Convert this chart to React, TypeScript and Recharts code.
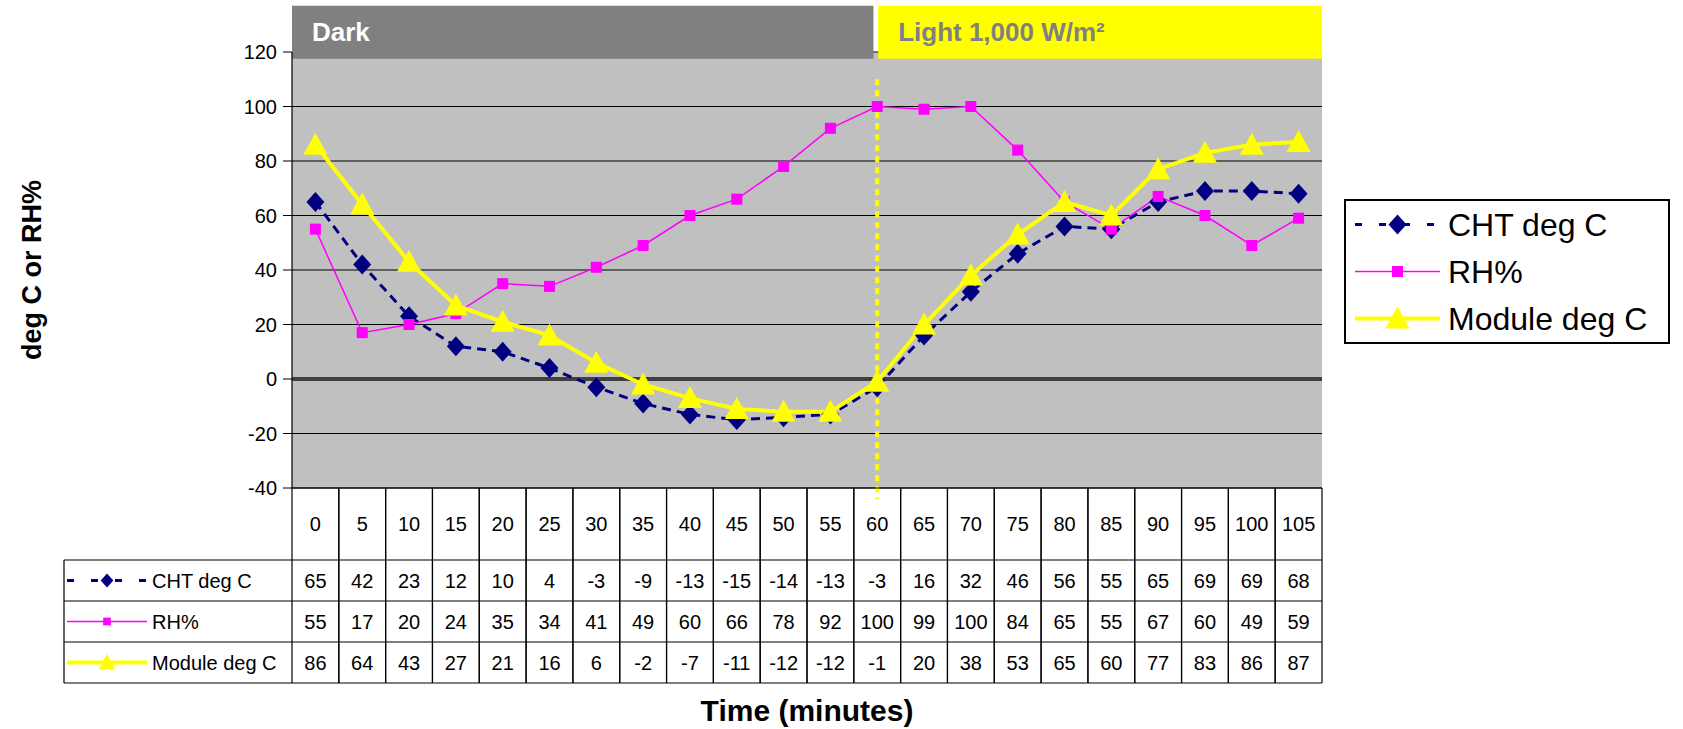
import {
  LineChart,
  Line,
  XAxis,
  YAxis,
  CartesianGrid,
  Legend,
  ReferenceArea,
  ReferenceLine,
  Label,
} from "recharts";

const times = [0, 5, 10, 15, 20, 25, 30, 35, 40, 45, 50, 55, 60, 65, 70, 75, 80, 85, 90, 95, 100, 105];
const chtDegC = [65, 42, 23, 12, 10, 4, -3, -9, -13, -15, -14, -13, -3, 16, 32, 46, 56, 55, 65, 69, 69, 68];
const rhPct = [55, 17, 20, 24, 35, 34, 41, 49, 60, 66, 78, 92, 100, 99, 100, 84, 65, 55, 67, 60, 49, 59];
const moduleDegC = [86, 64, 43, 27, 21, 16, 6, -2, -7, -11, -12, -12, -1, 20, 38, 53, 65, 60, 77, 83, 86, 87];
const yTicks = [-40, -20, 0, 20, 40, 60, 80, 100, 120];
const lightOnAt = 60;

const data = times.map((t, i) => ({
  t,
  cht: chtDegC[i],
  rh: rhPct[i],
  module: moduleDegC[i],
}));

const series = [
  { key: "cht", name: "CHT deg C", values: chtDegC, color: "#000080", width: 3, dash: "9 6", marker: "diamond" },
  { key: "rh", name: "RH%", values: rhPct, color: "#FF00FF", width: 1.5, dash: undefined, marker: "square" },
  { key: "module", name: "Module deg C", values: moduleDegC, color: "#FFFF00", width: 4, dash: undefined, marker: "triangle" },
];

const phases = [
  { label: "Dark", from: -2.5, to: 59.6, fill: "#808080", text: "#FFFFFF" },
  { label: "Light 1,000 W/m\u00B2", from: 60.1, to: 107.5, fill: "#FFFF00", text: "#808080" },
];

// layout
const W = 1683;
const H = 729;
const PLOT_LEFT = 292;
const PLOT_RIGHT = 1322;
const COL_W = (PLOT_RIGHT - PLOT_LEFT) / times.length;
const HEAD_H = 72;
const ROW_H = 41;
const KEY_LEFT = 64;

const Marker = ({ shape, cx, cy, color, s = 1 }: any) => {
  if (cx == null || cy == null) return null;
  if (shape === "diamond") {
    return (
      <polygon
        points={`${cx},${cy - 10 * s} ${cx + 9 * s},${cy} ${cx},${cy + 10 * s} ${cx - 9 * s},${cy}`}
        fill={color}
      />
    );
  }
  if (shape === "square") {
    return <rect x={cx - 5.5 * s} y={cy - 5.5 * s} width={11 * s} height={11 * s} fill={color} />;
  }
  return (
    <polygon
      points={`${cx},${cy - 12 * s} ${cx + 12 * s},${cy + 10 * s} ${cx - 12 * s},${cy + 10 * s}`}
      fill={color}
    />
  );
};

const KeySample = ({ s, x1, x2, cy, scale }: any) => (
  <g>
    <line
      x1={x1}
      x2={x2}
      y1={cy}
      y2={cy}
      stroke={s.color}
      strokeWidth={s.width}
      strokeDasharray={s.dash ? "7 17" : undefined}
    />
    <Marker shape={s.marker} cx={(x1 + x2) / 2} cy={cy} color={s.color} s={scale} />
  </g>
);

const TableTick = (props: any) => {
  const { x, y, payload } = props;
  const i = times.indexOf(payload.value);
  if (i < 0) return null;
  const left = x - COL_W / 2;
  const right = x + COL_W / 2;
  const rowTops = series.map((_, r) => y + HEAD_H + r * ROW_H);
  const bottom = y + HEAD_H + series.length * ROW_H;
  return (
    <g>
      <line x1={left} x2={left} y1={y} y2={bottom} stroke="#000" strokeWidth={1.2} />
      <line x1={right} x2={right} y1={y} y2={bottom} stroke="#000" strokeWidth={1.2} />
      {[...rowTops, bottom].map((yy) => (
        <line key={yy} x1={left} x2={right} y1={yy} y2={yy} stroke="#000" strokeWidth={1.2} />
      ))}
      <text x={x} y={y + HEAD_H / 2} textAnchor="middle" dominantBaseline="central" fontSize={20} fill="#000">
        {payload.value}
      </text>
      {series.map((s, r) => (
        <text
          key={s.key}
          x={x}
          y={rowTops[r] + ROW_H / 2}
          textAnchor="middle"
          dominantBaseline="central"
          fontSize={20}
          fill="#000"
        >
          {s.values[i]}
        </text>
      ))}
      {i === 0 && (
        <g>
          <line x1={KEY_LEFT} x2={KEY_LEFT} y1={rowTops[0]} y2={bottom} stroke="#000" strokeWidth={1.2} />
          {[...rowTops, bottom].map((yy) => (
            <line key={yy} x1={KEY_LEFT} x2={left} y1={yy} y2={yy} stroke="#000" strokeWidth={1.2} />
          ))}
          {series.map((s, r) => (
            <g key={s.key}>
              <KeySample s={s} x1={KEY_LEFT + 3} x2={KEY_LEFT + 83} cy={rowTops[r] + ROW_H / 2} scale={0.7} />
              <text
                x={KEY_LEFT + 88}
                y={rowTops[r] + ROW_H / 2}
                dominantBaseline="central"
                fontSize={20}
                fill="#000"
              >
                {s.name}
              </text>
            </g>
          ))}
        </g>
      )}
    </g>
  );
};

const XTitle = (props: any) => {
  const vb = props.viewBox || { x: PLOT_LEFT, y: 488, width: PLOT_RIGHT - PLOT_LEFT, height: 235 };
  return (
    <text
      x={vb.x + vb.width / 2}
      y={vb.y + 222}
      textAnchor="middle"
      dominantBaseline="central"
      fontSize={30}
      fontWeight="bold"
      fill="#000"
    >
      Time (minutes)
    </text>
  );
};

const YTitle = (props: any) => {
  const vb = props.viewBox || { x: 0, y: 52, width: PLOT_LEFT, height: 436 };
  const cx = vb.x + 32;
  const cy = vb.y + vb.height / 2;
  return (
    <text
      x={cx}
      y={cy}
      transform={`rotate(-90 ${cx} ${cy})`}
      textAnchor="middle"
      dominantBaseline="central"
      fontSize={27}
      fontWeight="bold"
      fill="#000"
    >
      deg C or RH%
    </text>
  );
};

// legend keeps the series order (Recharts sorts its payload by name)
const LegendBox = ({ payload }: any) => {
  const keys = (payload || []).map((e: any) => e.dataKey);
  const items = series.filter((s) => keys.length === 0 || keys.includes(s.key));
  return (
    <div
      style={{
        width: 326,
        height: 145,
        border: "2px solid #000",
        background: "#fff",
        boxSizing: "border-box",
      }}
    >
      {items.map((s) => (
        <div key={s.key} style={{ display: "flex", alignItems: "center", height: 47 }}>
          <svg width={100} height={47}>
            <KeySample s={s} x1={9} x2={94} cy={23.5} scale={1} />
          </svg>
          <span style={{ fontSize: 32, color: "#000", marginLeft: 2, lineHeight: 1 }}>{s.name}</span>
        </div>
      ))}
    </div>
  );
};

export default function App() {
  return (
    <div
      style={{
        position: "absolute",
        left: 0,
        top: 0,
        width: W,
        height: H,
        background: "#fff",
        fontFamily: "'Liberation Sans', Arial, sans-serif",
      }}
    >
      <LineChart width={W} height={H} data={data} margin={{ top: 52, right: W - PLOT_RIGHT, bottom: 6, left: 0 }}>
        <CartesianGrid vertical={false} stroke="#000" fill="#C0C0C0" />
        <XAxis
          dataKey="t"
          type="number"
          domain={[-2.5, 107.5]}
          ticks={times}
          interval={0}
          tickSize={0}
          tickMargin={0}
          height={235}
          axisLine={{ stroke: "#000", strokeWidth: 1.2 }}
          tickLine={false}
          tick={(p: any) => <TableTick {...p} />}
        >
          <Label content={XTitle} />
        </XAxis>
        <YAxis
          type="number"
          domain={[-40, 120]}
          ticks={yTicks}
          interval={0}
          width={PLOT_LEFT}
          tickSize={9}
          tickMargin={6}
          axisLine={{ stroke: "#000", strokeWidth: 1.2 }}
          tickLine={{ stroke: "#000" }}
          tick={{ fill: "#000", fontSize: 20 }}
        >
          <Label content={YTitle} />
        </YAxis>
        {phases.map((p) => (
          <ReferenceArea
            key={p.label}
            x1={p.from}
            x2={p.to}
            y1={117.5}
            y2={137}
            fill={p.fill}
            fillOpacity={1}
            stroke="none"
            ifOverflow="visible"
            label={{
              value: p.label,
              position: "insideLeft",
              offset: 20,
              fill: p.text,
              fontSize: 26,
              fontWeight: "bold",
            }}
          />
        ))}
        <ReferenceLine y={0} stroke="#404040" strokeWidth={4} />
        <ReferenceLine
          segment={[
            { x: lightOnAt, y: 110 },
            { x: lightOnAt, y: -44 },
          ]}
          stroke="#FFFF00"
          strokeWidth={4}
          strokeDasharray="6 5"
          ifOverflow="visible"
        />
        {series.map((s) => (
          <Line
            key={s.key}
            type="linear"
            dataKey={s.key}
            name={s.name}
            stroke={s.color}
            strokeWidth={s.width}
            strokeDasharray={s.dash}
            activeDot={false}
            isAnimationActive={false}
            dot={(p: any) => (
              <Marker key={`${s.key}-${p.index}`} shape={s.marker} cx={p.cx} cy={p.cy} color={s.color} />
            )}
          />
        ))}
        <Legend
          layout="vertical"
          align="center"
          verticalAlign="middle"
          wrapperStyle={{ left: 1344, top: 199, width: 326, height: 145 }}
          content={(p: any) => <LegendBox payload={p.payload} />}
        />
      </LineChart>
    </div>
  );
}
